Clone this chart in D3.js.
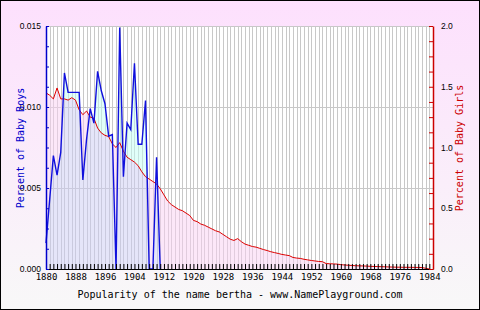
<!DOCTYPE html>
<html>
<head>
<meta charset="utf-8">
<script src="https://cdn.jsdelivr.net/npm/d3@7"></script>
<style>
  body { margin: 0; padding: 0; }
  svg { display: block; }
</style>
</head>
<body>
<svg id="chart" width="480" height="310"></svg>
<script>
// data
const boysYears = d3.range(1880, 1912);
const boysValues = [0.0016, 0.0043, 0.0070, 0.0058, 0.0072, 0.0121, 0.0109, 0.0109,
  0.0109, 0.0109, 0.0055, 0.0080, 0.0099, 0.0090, 0.0122, 0.0110,
  0.0102, 0.0082, 0.0083, 0.0, 0.0149, 0.0057, 0.0090, 0.0086,
  0.0127, 0.0077, 0.0077, 0.0104, 0.0, 0.0, 0.0069, 0.0];

const girlsYears = d3.range(1880, 1985);
const girlsValues = [1.45, 1.43, 1.40, 1.49, 1.40, 1.40, 1.39, 1.41, 1.39, 1.31,
  1.27, 1.30, 1.25, 1.24, 1.16, 1.12, 1.10, 1.09, 1.03, 1.00,
  1.04, 0.97, 0.92, 0.90, 0.88, 0.85, 0.80, 0.76, 0.74, 0.72,
  0.70, 0.66, 0.61, 0.56, 0.53, 0.51, 0.49, 0.48, 0.46, 0.44,
  0.40, 0.39, 0.37, 0.36, 0.345, 0.33, 0.315, 0.305, 0.285, 0.265,
  0.245, 0.235, 0.25, 0.225, 0.205, 0.195, 0.185, 0.18, 0.17, 0.16,
  0.152, 0.142, 0.135, 0.128, 0.12, 0.115, 0.11, 0.095, 0.09, 0.087,
  0.08, 0.075, 0.07, 0.066, 0.062, 0.06, 0.045, 0.043, 0.042, 0.04,
  0.036, 0.033, 0.031, 0.029, 0.027, 0.026, 0.025, 0.024, 0.022, 0.021,
  0.02, 0.019, 0.018, 0.017, 0.016, 0.015, 0.015, 0.014, 0.014, 0.014,
  0.013, 0.013, 0.012, 0.006, 0.0];

const xLabels = d3.range(1880, 1985, 8);
const boysTicks = [0, 0.005, 0.010, 0.015];
const girlsTicks = [0, 0.5, 1.0, 1.5, 2.0];
const title = "Popularity of the name bertha - www.NamePlayground.com";

const W = 480, H = 310;
const pLeft = 46, pRight = 433, pTop = 26, pBottom = 269;

const svg = d3.select("#chart");

// background gradient + border
const defs = svg.append("defs");
const grad = defs.append("linearGradient").attr("id", "bg").attr("x1", 0).attr("y1", 0).attr("x2", 0).attr("y2", 1);
grad.append("stop").attr("offset", "0%").attr("stop-color", "#fde0fd");
grad.append("stop").attr("offset", "100%").attr("stop-color", "#f8f8f8");
svg.append("rect").attr("x", 0.5).attr("y", 0.5).attr("width", W - 1).attr("height", H - 1)
  .attr("fill", "url(#bg)").attr("stroke", "#000");

const x = d3.scaleLinear().domain([1880, 1985]).range([pLeft, pRight]);
const yB = d3.scaleLinear().domain([0, 0.015]).range([pBottom, pTop]);
const yG = d3.scaleLinear().domain([0, 2]).range([pBottom, pTop]);

// plot background
svg.append("rect").attr("x", pLeft).attr("y", pTop).attr("width", pRight - pLeft).attr("height", pBottom - pTop).attr("fill", "#fff");

// grid
const grid = svg.append("g").attr("stroke", "#c8c8c8").attr("stroke-width", 1);
d3.range(1881, 1985).forEach(yr => {
  grid.append("line").attr("x1", Math.round(x(yr)) + 0.5).attr("x2", Math.round(x(yr)) + 0.5)
    .attr("y1", pTop).attr("y2", pBottom);
});
boysTicks.slice(1).forEach(v => {
  grid.append("line").attr("x1", pLeft).attr("x2", pRight)
    .attr("y1", Math.round(yB(v)) + 0.5).attr("y2", Math.round(yB(v)) + 0.5);
});

// areas
const boysData = boysYears.map((yr, i) => ({ yr, v: boysValues[i] }));
const girlsData = girlsYears.map((yr, i) => ({ yr, v: girlsValues[i] }));

const boysArea = d3.area().x(d => x(d.yr)).y0(pBottom).y1(d => yB(d.v));
const girlsArea = d3.area().x(d => x(d.yr)).y0(pBottom).y1(d => yG(d.v));

defs.append("clipPath").attr("id", "clipG").append("path").attr("d", girlsArea(girlsData));
const mNotB = defs.append("mask").attr("id", "notB").attr("maskUnits", "userSpaceOnUse")
  .attr("x", 0).attr("y", 0).attr("width", W).attr("height", H);
mNotB.append("rect").attr("width", W).attr("height", H).attr("fill", "#fff");
mNotB.append("path").attr("d", boysArea(boysData)).attr("fill", "#000");
const mNotG = defs.append("mask").attr("id", "notG").attr("maskUnits", "userSpaceOnUse")
  .attr("x", 0).attr("y", 0).attr("width", W).attr("height", H);
mNotG.append("rect").attr("width", W).attr("height", H).attr("fill", "#fff");
mNotG.append("path").attr("d", girlsArea(girlsData)).attr("fill", "#000");

const fills = svg.append("g").attr("opacity", 0.5);
fills.append("path").attr("d", girlsArea(girlsData)).attr("fill", "#fbd1f3").attr("mask", "url(#notB)");
fills.append("path").attr("d", boysArea(boysData)).attr("fill", "#c5fff5").attr("mask", "url(#notG)");
fills.append("path").attr("d", boysArea(boysData)).attr("fill", "#cdcdf5").attr("clip-path", "url(#clipG)");

// lines
svg.append("path").datum(girlsData)
  .attr("d", d3.line().x(d => x(d.yr)).y(d => yG(d.v)))
  .attr("fill", "none").attr("stroke", "#dd0000").attr("stroke-width", 1);
svg.append("path").datum(boysData)
  .attr("d", d3.line().x(d => x(d.yr)).y(d => yB(d.v)))
  .attr("fill", "none").attr("stroke", "#1010dd").attr("stroke-width", 1.4);

// x axis: ticks inward, labels below
const xTickAxis = svg.append("g").attr("transform", `translate(0,${pBottom})`)
  .call(d3.axisTop(x).tickValues(d3.range(1880, 1986)).tickSize(5).tickFormat("").tickSizeOuter(0));
xTickAxis.select(".domain").attr("stroke", "#000");
xTickAxis.selectAll(".tick line").attr("stroke", "#000");

const xLabelAxis = svg.append("g").attr("transform", `translate(0,${pBottom})`)
  .call(d3.axisBottom(x).tickValues(xLabels).tickSize(0).tickPadding(5).tickFormat(d3.format("d")));
xLabelAxis.select(".domain").remove();
xLabelAxis.selectAll("text").attr("font-family", "DejaVu Sans Mono").attr("font-size", 9).attr("fill", "#000");

// left axis (boys)
const lTick = svg.append("g").attr("transform", `translate(${pLeft},0)`)
  .call(d3.axisRight(yB).tickValues(d3.range(0, 13).map(i => i * 0.00125)).tickSize(3).tickFormat("").tickSizeOuter(0));
lTick.selectAll("line").attr("stroke", "#0000cc");
lTick.select(".domain").attr("stroke", "#0000cc").attr("stroke-width", 1.5);

const lLab = svg.append("g").attr("transform", `translate(${pLeft},0)`)
  .call(d3.axisLeft(yB).tickValues(boysTicks).tickSize(0).tickPadding(5).tickFormat(d3.format(".3f")));
lLab.select(".domain").remove();
lLab.selectAll("text").attr("font-family", "Liberation Sans").attr("font-size", 8.5).attr("fill", "#000");

// right axis (girls)
const rTick = svg.append("g").attr("transform", `translate(${pRight},0)`)
  .call(d3.axisLeft(yG).tickValues(d3.range(0, 17).map(i => i * 0.125)).tickSize(4).tickFormat("").tickSizeOuter(0));
rTick.selectAll("line").attr("stroke", "#cc0000");
rTick.select(".domain").attr("stroke", "#cc0000").attr("stroke-width", 1.5);

const rLab = svg.append("g").attr("transform", `translate(${pRight},0)`)
  .call(d3.axisRight(yG).tickValues(girlsTicks).tickSize(0).tickPadding(8).tickFormat(d3.format(".1f")));
rLab.select(".domain").remove();
rLab.selectAll("text").attr("font-family", "Liberation Sans").attr("font-size", 8.5).attr("fill", "#000");

// axis titles
svg.append("text").attr("transform", "translate(24,148) rotate(-90)")
  .attr("text-anchor", "middle").attr("font-family", "DejaVu Sans Mono").attr("font-size", 10)
  .attr("fill", "#0000cc").text("Percent of Baby Boys");
svg.append("text").attr("transform", "translate(463,148) rotate(-90)")
  .attr("text-anchor", "middle").attr("font-family", "DejaVu Sans Mono").attr("font-size", 10)
  .attr("fill", "#cc0000").text("Percent of Baby Girls");

svg.append("text").attr("x", 240).attr("y", 298).attr("text-anchor", "middle")
  .attr("font-family", "DejaVu Sans Mono").attr("font-size", 10).attr("fill", "#000").text(title);
</script>
</body>
</html>
